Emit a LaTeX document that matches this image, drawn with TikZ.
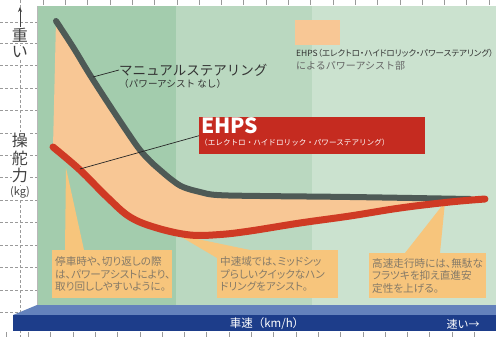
\documentclass[tikz,border=0pt]{standalone}
\usepackage{fontspec}
\setmainfont{Noto Sans CJK JP}
\newfontfamily\jp{Noto Sans CJK JP}
\newfontfamily\jpp[RawFeature=+palt]{Noto Sans CJK JP}
\usetikzlibrary{arrows.meta}
\definecolor{gL}{HTML}{A3CCAD}
\definecolor{gM}{HTML}{BAD8C0}
\definecolor{gR}{HTML}{CBE2CF}
\definecolor{orangeF}{HTML}{F8C795}
\definecolor{greyC}{HTML}{4E5A56}
\definecolor{redC}{HTML}{CF3A24}
\definecolor{redBox}{HTML}{C52B20}
\definecolor{callC}{HTML}{F7C57C}
\definecolor{callT}{HTML}{857A68}
\definecolor{blueD}{HTML}{1D3D8A}
\definecolor{blueL}{HTML}{6482BC}
\definecolor{gridC}{HTML}{9A9A9A}
\tikzset{
  gridline/.style={gridC, densely dashed, line width=0.6pt},
  ylab/.style={font=\jp\fontsize{16}{16}\selectfont, text=black!75, fill=white, inner sep=0.5pt},
  callout/.style={fill=callC, text=callT, anchor=north west, inner xsep=3pt, inner ysep=2pt,
     align=left, font=\jpp\fontsize{10.6}{12.6}\selectfont},
  leader/.style={black!85, line width=0.7pt},
  curvegrey/.style={greyC, line width=6pt, line cap=round, line join=round},
  curvered/.style={redC, line width=7pt, line cap=round, line join=round},
}
\begin{document}
\begin{tikzpicture}[x=1pt,y=-1pt]
\useasboundingbox (0,0) rectangle (496,337);
\fill[white] (0,0) rectangle (496,337);
% left grid
\foreach \yy in {22,43,65,88,110,133,155,177,200,222,245,267,290,312}
  \draw[gridline] (0,\yy) -- (37,\yy);
\draw[gridline] (20,0) -- (20,337);
% top and bottom ticks
\foreach \xx in {43,65.3,87.6,109.9,132.2,154.5,176.8,199.1,221.4,243.7,266,288.3,310.6,332.9,355.2,377.5,399.8,422.1,444.4,466.7,489}
  {\draw[gridC, line width=0.5pt] (\xx,0) -- (\xx,5);}
\foreach \xx in {6,28.3,50.6,72.9,95.2,117.5,139.8,162.1,184.4,206.7,229,251.3,273.6,295.9,318.2,340.5,362.8,385.1,407.4,429.7,452,474.3}
  {\draw[gridC, line width=0.5pt] (\xx,332) -- (\xx,337);}
% plot background
\fill[gL] (37,6) rectangle (176,306);
\fill[gM] (176,6) rectangle (312,306);
\fill[gR] (312,6) rectangle (496,306);
\draw[gridC!70, line width=0.6pt] (37,306) -- (37,6);
% bottom bar
\fill[blueL] (37,305) -- (496,305) -- (496,315) -- (13,315) -- cycle;
\fill[blueD] (13,315) rectangle (496,331);
% assist area
\fill[orangeF] plot[smooth, tension=0.6] coordinates {(56,21) (73,47) (90,75) (110,106) (130,136) (140,150) (150,161) (160,170) (172,180) (183,187) (200,192) (217,195) (260,196) (350,197) (470,199)}
  -- plot[smooth, tension=0.6] coordinates {(485,199) (450,202) (400,208) (350,216) (300,223) (250,231) (220,234.5) (190,235) (157,228) (130,217) (107,197) (80,170) (53,147)} -- cycle;
% callout pointers
\coordinate (t1) at (66,168);
\coordinate (t2) at (178,235);
\coordinate (t3) at (445,202);
\node[callout, minimum width=120pt, minimum height=48pt, text width=114pt] (c1) at (52,250)
  {停車時や、切り返しの際\\は、パワーアシストにより、\\取り回ししやすいように。};
\node[callout, minimum width=121pt, minimum height=48pt, text width=115pt] (c2) at (217,250)
  {中速域では、ミッドシッ\\プらしいクイックなハン\\ドリングをアシスト。};
\node[callout, minimum width=117pt, minimum height=45pt, text width=111pt] (c3) at (369,253)
  {高速走行時には、無駄な\\フラツキを抑え直進安\\定性を上げる。};
\fill[callC] (t1) -- ([xshift=13pt]c1.north west) -- ([xshift=32pt]c1.north west) -- cycle;
\fill[callC] (t2) -- ([xshift=33pt]c2.north west) -- ([yshift=-8pt]c2.north west) -- cycle;
\fill[callC] (t3) -- ([xshift=36pt]c3.north west) -- ([xshift=71pt]c3.north west) -- cycle;
% curves
\draw[curvegrey] plot[smooth, tension=0.6] coordinates {(56,21) (73,47) (90,75) (110,106) (130,136) (140,150) (150,161) (160,170) (172,180) (183,187) (200,192) (217,195) (260,196) (350,197) (470,199)};
\draw[curvered] plot[smooth, tension=0.6] coordinates {(53,147) (80,170) (107,197) (130,217) (157,228) (190,235) (220,234.5) (250,231) (300,223) (350,216) (400,208) (450,202) (485,199)};
% y axis labels
\node[ylab] (yk1) at (20,35) {重};
\node[ylab] (yk2) at (20,52) {い};
\coordinate (ytop) at (20,7);
\draw[black!75, line width=0.8pt, -{Stealth[length=5pt,width=4pt]}] (yk1.north) -- (ytop);
\node[ylab] (yk3) at (20,140) {操};
\node[ylab] (yk4) at (20,158) {舵};
\node[ylab] (yk5) at (20,175) {力};
\node[ylab, font=\jp\fontsize{11}{11}\selectfont] (yk6) at (20,192) {(kg)};
% manual steering label
\node[anchor=west, inner sep=0, text=black!80, font=\jp\fontsize{13.5}{14}\selectfont] (manual) at (119,70) {マニュアルステアリング};
\node[anchor=west, inner sep=0, text=black!80, font=\jp\fontsize{9.6}{10}\selectfont] (manualsub) at (119,84) {（パワーアシスト なし）};
\coordinate (g1) at (93,77);
\draw[leader] (g1) -- (manual.west);
% EHPS box
\node[fill=redBox, anchor=north west, minimum width=226pt, minimum height=37pt, inner sep=0] (ehps) at (199,117) {};
\node[anchor=west, inner sep=0, text=white, font=\jp\bfseries\fontsize{21}{21}\selectfont] (ehpsT) at (201,126) {EHPS};
\node[anchor=west, inner sep=0, text=white, font=\jp\fontsize{7.6}{8}\selectfont] (ehpsS) at (200,143) {（エレクトロ・ハイドロリック・パワーステアリング）};
\coordinate (r1) at (80,169);
\draw[leader] (ehps.west) -- (r1);
% legend
\node[fill=orangeF, anchor=north west, minimum width=45pt, minimum height=25pt, inner sep=0] (swatch) at (295,20) {};
\node[anchor=west, inner sep=0, text=black!80, font=\jpp\fontsize{8.5}{9}\selectfont] (leg1) at (296,53) {EHPS（エレクトロ・ハイドロリック・パワーステアリング）};
\node[anchor=west, inner sep=0, text=black!60, font=\jp\fontsize{10}{10}\selectfont] (leg2) at (296,66) {によるパワーアシスト部};
% axis labels on bar
\node[text=white, inner sep=0, font=\jp\fontsize{11.5}{12}\selectfont] (speed) at (267,324) {車速（km/h）};
\node[text=white, inner sep=0, font=\jp\fontsize{11}{12}\selectfont] (fast) at (463,324) {速い→};
\end{tikzpicture}
\end{document}
